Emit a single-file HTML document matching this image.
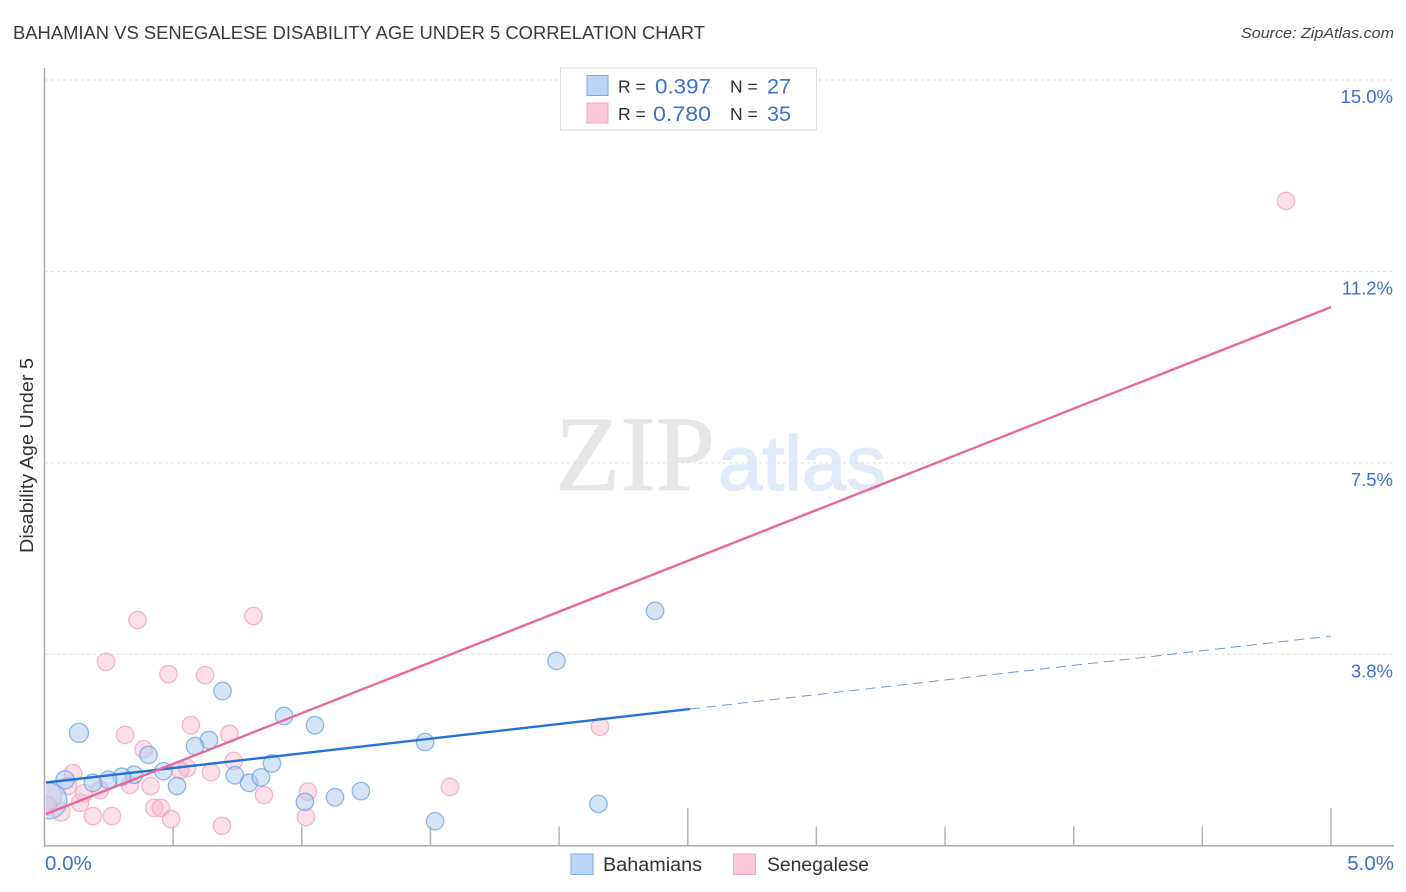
<!DOCTYPE html>
<html lang="en">
<head>
<meta charset="utf-8">
<title>Bahamian vs Senegalese Disability Age Under 5 Correlation Chart</title>
<style>
html,body{margin:0;padding:0;background:#fff;}
svg{display:block;font-family:"Liberation Sans",sans-serif;}
</style>
</head>
<body>
<svg id="chart" xmlns="http://www.w3.org/2000/svg" width="1406" height="892" viewBox="0 0 1406 892">
  <defs>
    <clipPath id="plot-clip"><rect x="46" y="60" width="1350" height="785"/></clipPath>
  </defs>
  <rect x="0" y="0" width="1406" height="892" fill="#ffffff"/>
  <text x="13" y="39" font-size="18" fill="#3a3a3a" textLength="692" lengthAdjust="spacingAndGlyphs">BAHAMIAN VS SENEGALESE DISABILITY AGE UNDER 5 CORRELATION CHART</text>
  <text x="1394" y="38" font-size="15" font-style="italic" fill="#444444" text-anchor="end" textLength="153" lengthAdjust="spacingAndGlyphs">Source: ZipAtlas.com</text>
  <text transform="translate(33,553) rotate(-90)" font-size="18" fill="#333333" textLength="195" lengthAdjust="spacingAndGlyphs">Disability Age Under 5</text>
  <g id="watermark">
    <text x="555" y="490" font-family="'Liberation Serif',serif" font-size="107" fill="#e6e6e6" stroke="#e6e6e6" stroke-width="0.8" textLength="160" lengthAdjust="spacingAndGlyphs">ZIP</text>
    <text x="718" y="490" font-family="'Liberation Sans',sans-serif" font-size="77" fill="#e0eaf8" stroke="#e0eaf8" stroke-width="1.4" textLength="168" lengthAdjust="spacingAndGlyphs">atlas</text>
  </g>
  <g id="grid"></g>
  <g id="axes"></g>
  <g id="points" clip-path="url(#plot-clip)"></g>
  <g id="trends"></g>
  <g id="labels"></g>

  <g>
    <rect x="560.5" y="68" width="256" height="62" fill="#ffffff" stroke="#dddddd" stroke-width="1"/>
    <rect x="587" y="75.5" width="21" height="20" fill="#b9d5f6" stroke="#7eaae2" stroke-width="1"/>
    <rect x="587" y="103" width="21" height="20" fill="#fcc9db" stroke="#f2a5c0" stroke-width="1"/>
    <text x="618" y="92.5" font-size="17.5" fill="#2b2b33">R =</text>
    <text x="655" y="93.5" font-size="21" fill="#3a72cc" textLength="56" lengthAdjust="spacingAndGlyphs">0.397</text>
    <text x="730" y="92.5" font-size="17.5" fill="#2b2b33">N =</text>
    <text x="767" y="93.5" font-size="21" fill="#3a72cc" textLength="24" lengthAdjust="spacingAndGlyphs">27</text>
    <text x="618" y="120" font-size="17.5" fill="#2b2b33">R =</text>
    <text x="653" y="121" font-size="21" fill="#3a72cc" textLength="58" lengthAdjust="spacingAndGlyphs">0.780</text>
    <text x="730" y="120" font-size="17.5" fill="#2b2b33">N =</text>
    <text x="767" y="121" font-size="21" fill="#3a72cc" textLength="24" lengthAdjust="spacingAndGlyphs">35</text>
  </g>

  <g>
    <rect x="571" y="854" width="22" height="20.5" fill="#b9d5f6" stroke="#7eaae2" stroke-width="1"/>
    <text x="603" y="871" font-size="19" fill="#333333" textLength="99" lengthAdjust="spacingAndGlyphs">Bahamians</text>
    <rect x="733.5" y="854" width="22" height="20.5" fill="#fcc9db" stroke="#f2a5c0" stroke-width="1"/>
    <text x="767" y="871" font-size="19" fill="#333333" textLength="102" lengthAdjust="spacingAndGlyphs">Senegalese</text>
  </g>
</svg>
<script>
// ---- data (x = Bahamian/Senegalese share %, y = disability age under 5 %) ----
var yTickValues = [15, 11.25, 7.5, 3.75];
var yTickLabels = ["15.0%", "11.2%", "7.5%", "3.8%"];
var xTickValues = [0.5, 1, 1.5, 2, 2.5, 3, 3.5, 4, 4.5, 5];
var xMajorTicks = [2.5, 5];
var xEndValues = [0, 5];
var xEndLabels = ["0.0%", "5.0%"];

var bahamianX = [2.373, 1.990, 0.692, 0.931, 1.051, 0.134, 1.479, 0.639, 0.585, 0.404, 0.884, 0.462, 0.515, 0.740, 0.795, 0.841, 0.348, 0.301, 0.247, 0.188, 0.080, 0.017, 1.012, 1.129, 1.230, 2.153, 1.518];
var bahamianY = [4.60, 3.62, 3.03, 2.54, 2.36, 2.21, 2.03, 2.07, 1.95, 1.78, 1.61, 1.46, 1.17, 1.38, 1.23, 1.34, 1.39, 1.35, 1.29, 1.23, 1.29, 0.88, 0.86, 0.95, 1.07, 0.82, 0.48];
var bahamianWeight = [1, 1, 1, 1, 1, 1.2, 1, 1, 1, 1, 1, 1, 1, 1, 1, 1, 1, 1, 1, 1, 1.1, 4.3, 1, 1, 1, 1, 1];

var senegaleseX = [4.825, 0.361, 0.812, 0.239, 0.482, 0.624, 2.159, 0.569, 0.313, 0.719, 0.385, 0.735, 0.554, 0.527, 0.647, 0.111, 0.332, 0.412, 0.216, 0.154, 0.138, 0.426, 0.453, 0.492, 0.262, 0.188, 0.091, 0.064, 1.576, 0.853, 1.024, 1.016, 0.690, 0.014, 0.010];
var senegaleseY = [12.63, 4.42, 4.50, 3.60, 3.36, 3.34, 2.33, 2.36, 2.17, 2.19, 1.89, 1.66, 1.52, 1.48, 1.44, 1.42, 1.19, 1.17, 1.09, 1.03, 0.84, 0.74, 0.74, 0.52, 0.58, 0.58, 1.17, 0.66, 1.15, 0.99, 1.06, 0.56, 0.39, 0.97, 0.78];
var senegaleseWeight = [1, 1, 1, 1, 1, 1, 1, 1, 1, 1, 1, 1, 1, 1, 1, 1, 1, 1, 1, 1, 1, 1, 1, 1, 1, 1, 1, 1.1, 1, 1, 1, 1, 1, 2.4, 1.2];

var bahamianTrendX = [0.006, 2.51];
var bahamianTrendY = [1.238, 2.678];
var bahamianDashX = [2.51, 5];
var bahamianDashY = [2.678, 4.108];
var senegaleseTrendX = [0.006, 5];
var senegaleseTrendY = [0.62, 10.55];

// ---- axis functions ----
function xScale(v) { return 44.5 + v * 257.3; }
function yScale(v) { return 845.7 - v * 51.05; }
function rScale(w) { return 8.7 * Math.sqrt(w); }

var SVG_NS = "http://www.w3.org/2000/svg";
function mk(tag, parent, attrs) {
  var el = document.createElementNS(SVG_NS, tag);
  for (var k in attrs) { el.setAttribute(k, attrs[k]); }
  parent.appendChild(el);
  return el;
}

var gridG = document.getElementById("grid");
var axesG = document.getElementById("axes");
var pointsG = document.getElementById("points");
var trendsG = document.getElementById("trends");
var labelsG = document.getElementById("labels");

// grid lines and y labels
yTickValues.forEach(function (v, i) {
  var line = mk("line", gridG, { x1: 45, x2: 1393, y1: yScale(v), y2: yScale(v), stroke: "#dedede", "stroke-width": 1, "stroke-dasharray": "3 3" });
  
  
  var label = mk("text", labelsG, { x: 1393, y: yScale(v) + 23, "text-anchor": "end", "font-size": 18.5, fill: "#3a72cc" });
  
  
  label.textContent = yTickLabels[i];
});

// axes
var yAxisLine = mk("line", axesG, { x1: 44.5, x2: 44.5, y1: 68, y2: 846, stroke: "#aaaaaa", "stroke-width": 1.5 });


var xAxisLine = mk("line", axesG, { x1: 44, x2: 1394, y1: 845.7, y2: 845.7, stroke: "#aaaaaa", "stroke-width": 1.5 });


xTickValues.forEach(function (v) {
  var top = xMajorTicks.indexOf(v) >= 0 ? 808 : 826.5;
  var tick = mk("line", axesG, { x1: xScale(v), x2: xScale(v), y1: top, y2: 845.7, stroke: "#b4b4b4", "stroke-width": 1.5 });
  
  
});
xEndValues.forEach(function (v, i) {
  var label = mk("text", labelsG, { x: i === 0 ? xScale(v) + 0.5 : xScale(v) + 63, y: 870, "text-anchor": i === 0 ? "start" : "end", "font-size": 20.5, fill: "#3a72cc" });
  
  
  label.textContent = xEndLabels[i];
});

// scatter points
senegaleseX.forEach(function (x, i) {
  var c = mk("circle", pointsG, { cx: xScale(x), cy: yScale(senegaleseY[i]), r: rScale(senegaleseWeight[i]), fill: "#f9b9cf", "fill-opacity": 0.45, stroke: "#ee9db9", "stroke-opacity": 0.7, "stroke-width": 1.3 });
  
  
});
bahamianX.forEach(function (x, i) {
  var c = mk("circle", pointsG, { cx: xScale(x), cy: yScale(bahamianY[i]), r: rScale(bahamianWeight[i]), fill: "#a9cbf2", "fill-opacity": 0.5, stroke: "#6a9edf", "stroke-opacity": 0.72, "stroke-width": 1.3 });
  
  
});

// trend lines
function lineFrom(xs, ys, parent, attrs) {
  return mk("line", parent, Object.assign({ x1: xScale(xs[0]), y1: yScale(ys[0]), x2: xScale(xs[1]), y2: yScale(ys[1]) }, attrs));
}
var bahDash = lineFrom(bahamianDashX, bahamianDashY, trendsG, { stroke: "#4a7fc8", "stroke-width": 1, "stroke-dasharray": "10 6", "stroke-opacity": 0.8 });


var bahTrend = lineFrom(bahamianTrendX, bahamianTrendY, trendsG, { stroke: "#2272d9", "stroke-width": 2.4 });


var senTrend = lineFrom(senegaleseTrendX, senegaleseTrendY, trendsG, { stroke: "#e8689a", "stroke-width": 2.4 });


</script>
</body>
</html>
